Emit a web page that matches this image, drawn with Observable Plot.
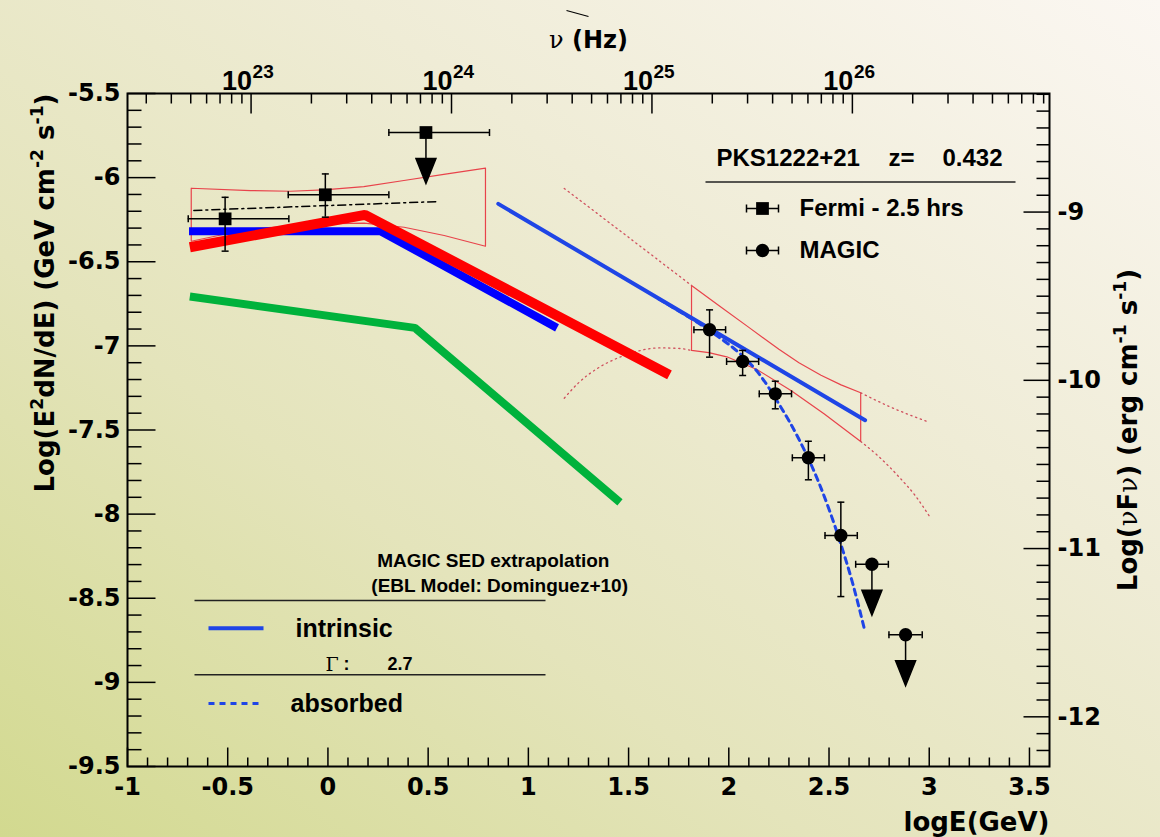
<!DOCTYPE html>
<html><head><meta charset="utf-8">
<script src="https://cdn.jsdelivr.net/npm/d3@7"></script>
<script src="https://cdn.jsdelivr.net/npm/@observablehq/plot@0.6"></script>
<style>
html,body{margin:0;padding:0;}
body{width:1160px;height:837px;overflow:hidden;
background:linear-gradient(to top right,#d2d98f 0%,#e4e4bb 35%,#efecd6 65%,#fbf7f2 100%);}
</style></head>
<body><div id="chart"></div>
<script>
// ---------- axis constants ----------
const X_DOMAIN = [-1, 3.6];
const Y_DOMAIN = [-9.5, -5.5];
const LOG_GEV_TO_ERG = Math.log10(1.602176634e-3);      // right axis offset
const LOG_GEV_TO_HZ = Math.log10(1e9 / 4.135667696e-15); // top axis offset

// ---------- tick values ----------
const xMajorTicks = [-1, -0.5, 0, 0.5, 1, 1.5, 2, 2.5, 3, 3.5];
const yMajorTicks = [-9.5, -9, -8.5, -8, -7.5, -7, -6.5, -6, -5.5];
const rightMajorTicks = [-12, -11, -10, -9];
const topDecades = [23, 24, 25, 26];
const isMajor = (v, arr) => arr.some(m => Math.abs(m - v) < 1e-9);
const xMinorTicks = d3.range(-10, 36).map(i => i / 10).filter(v => !isMajor(v, xMajorTicks));
const yMinorTicks = d3.range(-95, -54).map(i => i / 10).filter(v => !isMajor(v, yMajorTicks));
const rightMinorTicks = d3.range(-122, -82).map(i => i / 10).filter(v => !isMajor(v, rightMajorTicks));
const topMinorFreqs = [];
for (const e of [22, 23, 24, 25, 26]) for (const m of [2,3,4,5,6,7,8,9]) topMinorFreqs.push(m * Math.pow(10, e));
const freqToX = f => Math.log10(f) - LOG_GEV_TO_HZ;
const topMinorInRange = topMinorFreqs.filter(f => freqToX(f) > X_DOMAIN[0] && freqToX(f) < X_DOMAIN[1]);

// ---------- Fermi data ----------
const fermiE      = [-0.513, -0.013];
const fermiFlux   = [-6.245, -6.102];
const fermiElo    = [-0.697, -0.198];
const fermiEhi    = [-0.195, 0.304];
const fermiFluxLo = [-6.437, -6.235];
const fermiFluxHi = [-6.117, -5.978];
const fermiUlE    = [0.489];
const fermiUlFlux = [-5.732];
const fermiUlElo  = [0.304];
const fermiUlEhi  = [0.806];

// ---------- MAGIC data ----------
const magicE      = [1.904, 2.069, 2.232, 2.397, 2.559];
const magicFlux   = [-6.904, -7.093, -7.285, -7.665, -8.127];
const magicElo    = [1.826, 1.989, 2.152, 2.317, 2.480];
const magicEhi    = [1.984, 2.149, 2.313, 2.477, 2.641];
const magicFluxLo = [-7.067, -7.176, -7.374, -7.796, -8.490];
const magicFluxHi = [-6.786, -7.027, -7.210, -7.567, -7.929];
const magicUlE    = [2.714, 2.882];
const magicUlFlux = [-8.298, -8.717];
const magicUlElo  = [2.633, 2.799];
const magicUlEhi  = [2.796, 2.965];

// ---------- model lines ----------
const greenE = [-0.689, 0.434, 1.457];
const greenF = [-6.707, -6.893, -7.930];
const blueE  = [-0.693, 0.262, 1.143];
const blueF  = [-6.318, -6.318, -6.893];
const redE   = [-0.689, 0.185, 1.704];
const redF   = [-6.414, -6.221, -7.172];
const intrinsicE = [0.850, 2.680];
const intrinsicF = [-6.156, -7.442];
const absorbedE = [1.65, 1.75, 1.85, 1.95, 2.05, 2.15, 2.25, 2.35, 2.45, 2.55, 2.62, 2.68];
const absorbedF = [-6.721, -6.792, -6.866, -6.948, -7.040, -7.165, -7.345, -7.555, -7.815, -8.145, -8.420, -8.700];
const fermiFitE = [-0.669, 0.553];
const fermiFitF = [-6.195, -6.142];

// ---------- butterflies ----------
const fermiBowUpE = [-0.682, -0.386, -0.187, -0.02, 0.179, 0.379, 0.578, 0.786];
const fermiBowUpF = [-6.063, -6.077, -6.081, -6.073, -6.053, -6.017, -5.981, -5.944];
const fermiBowLoE = [-0.682, -0.386, -0.02, 0.18, 0.38, 0.58, 0.786];
const fermiBowLoF = [-6.378, -6.304, -6.275, -6.271, -6.295, -6.344, -6.408];
const magicBowUpE = [1.814, 1.95, 2.1, 2.25, 2.35, 2.46, 2.56, 2.658];
const magicBowUpF = [-6.641, -6.76, -6.89, -7.02, -7.10, -7.175, -7.232, -7.279];
const magicBowLoE = [1.814, 1.9, 1.99, 2.14, 2.31, 2.475, 2.658];
const magicBowLoF = [-7.027, -7.040, -7.065, -7.14, -7.265, -7.404, -7.568];
const extUpLeftE  = [1.179, 1.5, 1.814];
const extUpLeftF  = [-6.064, -6.355, -6.641];
const extLoLeftE  = [1.179, 1.25, 1.35, 1.45, 1.55, 1.65, 1.75, 1.814];
const extLoLeftF  = [-7.311, -7.22, -7.13, -7.07, -7.03, -7.012, -7.015, -7.027];
const extUpRightE = [2.658, 2.8, 2.999];
const extUpRightF = [-7.279, -7.36, -7.454];
const extLoRightE = [2.658, 2.75, 2.85, 2.93, 2.999];
const extLoRightF = [-7.568, -7.66, -7.78, -7.89, -8.009];

// ---------- texts ----------
const yTitle = "Log(E{^2}dN/dE) (GeV cm{^-2} s{^-1})";
const rightTitle = "Log({sν}F{sν}) (erg cm{^-1} s{^-1})";
const topTitle = "{sν} (Hz)";
const xTitle = "logE(GeV)";
const sourceName = "PKS1222+21", zLabel = "z=", zValue = "0.432";
const fermiLabel = "Fermi - 2.5 hrs", magicLabel = "MAGIC";
const extrapTitle1 = "MAGIC SED extrapolation", extrapTitle2 = "(EBL Model: Dominguez+10)";
const intrinsicLabel = "intrinsic", absorbedLabel = "absorbed";
const gammaSym = "Γ", gammaColon = ":", gammaValue = "2.7";

// ---------- helpers ----------
const pts = (xs, ys) => xs.map((x, i) => ({x, y: ys[i]}));
const ring = (ue, uf, le, lf) => {
  const up = pts(ue, uf), lo = pts(le, lf).reverse();
  return [...up, ...lo, up[0]];
};
const errPts = (x, y, xlo, xhi, ylo, yhi) => x.map((v, i) => ({x: v, y: y[i], xlo: xlo[i], xhi: xhi[i], ylo: ylo ? ylo[i] : null, yhi: yhi ? yhi[i] : null}));
const sym = f => ({draw: f});
const seg = (x1, y1, x2, y2) => sym(c => { c.moveTo(x1, y1); c.lineTo(x2, y2); });
const capV = seg(0, -3.5, 0, 3.5), capH = seg(-3.5, 0, 3.5, 0);
const ulArrow = sym(c => { c.moveTo(0, 0); c.lineTo(0, 27); c.moveTo(-10, 26); c.lineTo(10, 26); c.lineTo(0, 51); c.closePath(); });
const legendErr = sym(c => { c.moveTo(-16, 0); c.lineTo(16, 0); c.moveTo(-16, -4); c.lineTo(-16, 4); c.moveTo(16, -4); c.lineTo(16, 4); });
const hline = len => seg(-len / 2, 0, len / 2, 0);

const fermiPts = errPts(fermiE, fermiFlux, fermiElo, fermiEhi, fermiFluxLo, fermiFluxHi);
const fermiUl = errPts(fermiUlE, fermiUlFlux, fermiUlElo, fermiUlEhi);
const magicPts = errPts(magicE, magicFlux, magicElo, magicEhi, magicFluxLo, magicFluxHi);
const magicUl = errPts(magicUlE, magicUlFlux, magicUlElo, magicUlEhi);

const K = {stroke: "black", strokeWidth: 1.5, fill: "none"};
function errorBars(P, withY) {
  const m = [
    Plot.ruleY(P, {y: "y", x1: "xlo", x2: "xhi", stroke: "black", strokeWidth: 1.5}),
    Plot.dot(P, {x: "xlo", y: "y", symbol: capV, ...K}),
    Plot.dot(P, {x: "xhi", y: "y", symbol: capV, ...K})
  ];
  if (withY) m.push(
    Plot.ruleX(P, {x: "x", y1: "ylo", y2: "yhi", stroke: "black", strokeWidth: 1.5}),
    Plot.dot(P, {x: "x", y: "ylo", symbol: capH, ...K}),
    Plot.dot(P, {x: "x", y: "yhi", symbol: capH, ...K})
  );
  return m;
}

const SANS = "'DejaVu Sans', sans-serif";
const LIB = "'Liberation Sans', Arial, sans-serif";
const SERIF = "'DejaVu Serif', 'Liberation Serif', serif";
const RED_THIN = "#e8434b", DOT_RED = "#d0505e", BLUE2 = "#1f45e6";
const TL = {frameAnchor: "top-left", lineAnchor: "middle"};

const chart = Plot.plot({
  width: 1160, height: 837,
  marginLeft: 127, marginRight: 111, marginTop: 93, marginBottom: 71,
  x: {domain: X_DOMAIN, axis: null},
  y: {domain: Y_DOMAIN, axis: null},
  style: {background: "transparent", overflow: "visible"},
  marks: [
    // butterflies
    Plot.line(ring(fermiBowUpE, fermiBowUpF, fermiBowLoE, fermiBowLoF), {x: "x", y: "y", stroke: RED_THIN, strokeWidth: 1.2}),
    Plot.line(ring(magicBowUpE, magicBowUpF, magicBowLoE, magicBowLoF), {x: "x", y: "y", stroke: RED_THIN, strokeWidth: 1.2}),
    ...[[extUpLeftE, extUpLeftF], [extLoLeftE, extLoLeftF], [extUpRightE, extUpRightF], [extLoRightE, extLoRightF]].map(([e, f]) =>
      Plot.line(pts(e, f), {x: "x", y: "y", stroke: DOT_RED, strokeWidth: 1.3, strokeDasharray: "1.3,3.7", curve: "monotone-x"})),
    Plot.line(pts(fermiFitE, fermiFitF), {x: "x", y: "y", stroke: "black", strokeWidth: 1.5, strokeDasharray: "8,4,2,4"}),
    // model lines
    Plot.line(pts(greenE, greenF), {x: "x", y: "y", stroke: "#00b23c", strokeWidth: 8, strokeLinejoin: "miter", strokeLinecap: "butt"}),
    Plot.line(pts(blueE, blueF), {x: "x", y: "y", stroke: "#0000ff", strokeWidth: 8, strokeLinejoin: "miter", strokeLinecap: "butt"}),
    Plot.line(pts(redE, redF), {x: "x", y: "y", stroke: "#ff0000", strokeWidth: 10, strokeLinejoin: "miter", strokeLinecap: "butt"}),
    Plot.line(pts(intrinsicE, intrinsicF), {x: "x", y: "y", stroke: BLUE2, strokeWidth: 4}),
    Plot.line(pts(absorbedE, absorbedF), {x: "x", y: "y", stroke: BLUE2, strokeWidth: 3, strokeDasharray: "6,5", curve: "monotone-x"}),
    // data points
    ...errorBars(fermiPts, true),
    ...errorBars(fermiUl, false),
    ...errorBars(magicPts, true),
    ...errorBars(magicUl, false),
    Plot.dot(fermiUl, {x: "x", y: "y", symbol: ulArrow, fill: "black", stroke: "black", strokeWidth: 1.5}),
    Plot.dot(magicUl, {x: "x", y: "y", symbol: ulArrow, fill: "black", stroke: "black", strokeWidth: 1.5}),
    Plot.dot([...fermiPts, ...fermiUl], {x: "x", y: "y", symbol: "square", r: 7.2, fill: "black"}),
    Plot.dot([...magicPts, ...magicUl], {x: "x", y: "y", symbol: "circle", r: 6.7, fill: "black"}),
    // frame and ticks
    Plot.frame({stroke: "black", strokeWidth: 2}),
    Plot.dot(yMajorTicks, {x: () => X_DOMAIN[0], y: d => d, symbol: seg(0, 0, 28, 0), ...K}),
    Plot.dot(yMinorTicks, {x: () => X_DOMAIN[0], y: d => d, symbol: seg(0, 0, 14, 0), ...K}),
    Plot.dot(rightMajorTicks, {x: () => X_DOMAIN[1], y: d => d - LOG_GEV_TO_ERG, symbol: seg(0, 0, -26, 0), ...K}),
    Plot.dot(rightMinorTicks, {x: () => X_DOMAIN[1], y: d => d - LOG_GEV_TO_ERG, symbol: seg(0, 0, -13, 0), ...K}),
    Plot.dot(xMajorTicks, {x: d => d, y: () => Y_DOMAIN[0], symbol: seg(0, 0, 0, -19), ...K}),
    Plot.dot(xMinorTicks, {x: d => d, y: () => Y_DOMAIN[0], symbol: seg(0, 0, 0, -9), ...K}),
    Plot.dot(topDecades, {x: e => e - LOG_GEV_TO_HZ, y: () => Y_DOMAIN[1], symbol: seg(0, 0, 0, 20), ...K}),
    Plot.dot(topMinorInRange, {x: freqToX, y: () => Y_DOMAIN[1], symbol: seg(0, 0, 0, 10), ...K}),
    // tick labels
    Plot.text(yMajorTicks, {x: () => X_DOMAIN[0], y: d => d, text: d => String(d), textAnchor: "end", dx: -7, fontSize: 24, fontWeight: "bold", fontFamily: SANS}),
    Plot.text(xMajorTicks, {x: d => d, y: () => Y_DOMAIN[0], text: d => String(d), lineAnchor: "top", dy: 11, fontSize: 24, fontWeight: "bold", fontFamily: SANS}),
    Plot.text(rightMajorTicks, {x: () => X_DOMAIN[1], y: d => d - LOG_GEV_TO_ERG, text: d => String(d), textAnchor: "start", dx: 8, fontSize: 24, fontWeight: "bold", fontFamily: SANS}),
    Plot.text(topDecades, {x: e => e - LOG_GEV_TO_HZ, y: () => Y_DOMAIN[1], text: () => "10", textAnchor: "end", lineAnchor: "bottom", dx: 1, dy: -4, fontSize: 27, fontWeight: "bold", fontFamily: LIB}),
    Plot.text(topDecades, {x: e => e - LOG_GEV_TO_HZ, y: () => Y_DOMAIN[1], text: e => String(e), textAnchor: "start", lineAnchor: "bottom", dx: 1.5, dy: -16, fontSize: 19, fontWeight: "bold", fontFamily: LIB}),
    // axis titles
    Plot.text([yTitle], {frameAnchor: "top-left", lineAnchor: "middle", rotate: -90, textAnchor: "end", dx: -82, fontSize: 26, fontWeight: "bold", fontFamily: SANS}),
    Plot.text([rightTitle], {frameAnchor: "right", lineAnchor: "middle", rotate: -90, textAnchor: "middle", dx: 79, fontSize: 26, fontWeight: "bold", fontFamily: SANS}),
    Plot.text([topTitle], {frameAnchor: "top", lineAnchor: "middle", dy: -53, fontSize: 24, fontWeight: "bold", fontFamily: SANS}),
    Plot.dot([0], {frameAnchor: "top", dx: -11, dy: -80, symbol: seg(-11, -3, 11, 3), stroke: "black", strokeWidth: 1.2, fill: "none"}),
    Plot.text([xTitle], {frameAnchor: "bottom-right", lineAnchor: "middle", textAnchor: "end", dy: 56, fontSize: 26, fontWeight: "bold", fontFamily: SANS}),
    // top-right legend
    Plot.text([sourceName], {...TL, dx: 589, dy: 64.5, textAnchor: "start", fontSize: 24, fontWeight: "bold", fontFamily: LIB}),
    Plot.text([zLabel], {...TL, dx: 761, dy: 64.5, textAnchor: "start", fontSize: 24, fontWeight: "bold", fontFamily: LIB}),
    Plot.text([zValue], {...TL, dx: 815, dy: 64.5, textAnchor: "start", fontSize: 24, fontWeight: "bold", fontFamily: LIB}),
    Plot.dot([0], {...TL, dx: 733, dy: 88.5, symbol: hline(310), stroke: "#222", strokeWidth: 1.5, fill: "none"}),
    Plot.dot([0], {...TL, dx: 635, dy: 115, symbol: legendErr, ...K}),
    Plot.dot([0], {...TL, dx: 635, dy: 115, symbol: "square", r: 7.2, fill: "black"}),
    Plot.text([fermiLabel], {...TL, dx: 672, dy: 115, textAnchor: "start", fontSize: 24, fontWeight: "bold", fontFamily: LIB}),
    Plot.dot([0], {...TL, dx: 635, dy: 157, symbol: legendErr, ...K}),
    Plot.dot([0], {...TL, dx: 635, dy: 157, symbol: "circle", r: 6.7, fill: "black"}),
    Plot.text([magicLabel], {...TL, dx: 672, dy: 157, textAnchor: "start", fontSize: 24, fontWeight: "bold", fontFamily: LIB}),
    // bottom-left legend
    Plot.text([extrapTitle1], {...TL, dx: 249.7, dy: 467, fontSize: 19, fontWeight: "bold", fontFamily: LIB}),
    Plot.text([extrapTitle2], {...TL, dx: 243.8, dy: 492, fontSize: 19, fontWeight: "bold", fontFamily: LIB}),
    Plot.dot([0], {...TL, dx: 242.5, dy: 507, symbol: hline(351), stroke: "#222", strokeWidth: 1.5, fill: "none"}),
    Plot.dot([0], {...TL, dx: 108.5, dy: 534.7, symbol: hline(55), stroke: BLUE2, strokeWidth: 4, fill: "none"}),
    Plot.text([intrinsicLabel], {...TL, dx: 168, dy: 535, textAnchor: "start", fontSize: 25, fontWeight: "bold", fontFamily: LIB}),
    Plot.text([gammaSym], {...TL, dx: 198, dy: 571, textAnchor: "start", fontSize: 19, fontFamily: SERIF}),
    Plot.text([gammaColon], {...TL, dx: 216, dy: 571, textAnchor: "start", fontSize: 18, fontWeight: "bold", fontFamily: LIB}),
    Plot.text([gammaValue], {...TL, dx: 260, dy: 571, textAnchor: "start", fontSize: 18, fontWeight: "bold", fontFamily: LIB}),
    Plot.dot([0], {...TL, dx: 242.5, dy: 581.3, symbol: hline(351), stroke: "#222", strokeWidth: 1.5, fill: "none"}),
    Plot.dot([0], {...TL, dx: 108.5, dy: 610, symbol: hline(55), stroke: BLUE2, strokeWidth: 3, strokeDasharray: "6,5", fill: "none"}),
    Plot.text([absorbedLabel], {...TL, dx: 163, dy: 610, textAnchor: "start", fontSize: 25, fontWeight: "bold", fontFamily: LIB})
  ]
});

document.getElementById("chart").append(chart);

// rich text: {^..} superscript, {s..} thin serif
function richify(root) {
  const NS = "http://www.w3.org/2000/svg";
  root.querySelectorAll("text").forEach(t => {
    const s = t.textContent;
    if (!/\{[\^s]/.test(s)) return;
    const fs = parseFloat(getComputedStyle(t).fontSize) || 16;
    t.textContent = "";
    const re = /\{(\^|s)([^}]*)\}/g;
    let last = 0, m, shifted = false;
    const add = (txt, kind) => {
      if (!txt) return;
      const ts = document.createElementNS(NS, "tspan");
      ts.textContent = txt;
      if (kind === "^") {
        ts.setAttribute("font-size", (fs * 0.66).toFixed(1));
        if (!shifted) ts.setAttribute("dy", (-fs * 0.42).toFixed(1));
        shifted = true;
      } else {
        if (shifted) { ts.setAttribute("dy", (fs * 0.42).toFixed(1)); shifted = false; }
        if (kind === "s") { ts.setAttribute("font-family", SERIF); ts.setAttribute("font-weight", "normal"); }
      }
      t.appendChild(ts);
    };
    while ((m = re.exec(s))) { add(s.slice(last, m.index), ""); add(m[2], m[1]); last = re.lastIndex; }
    add(s.slice(last), "");
  });
}
richify(chart);
</script>
</body></html>
